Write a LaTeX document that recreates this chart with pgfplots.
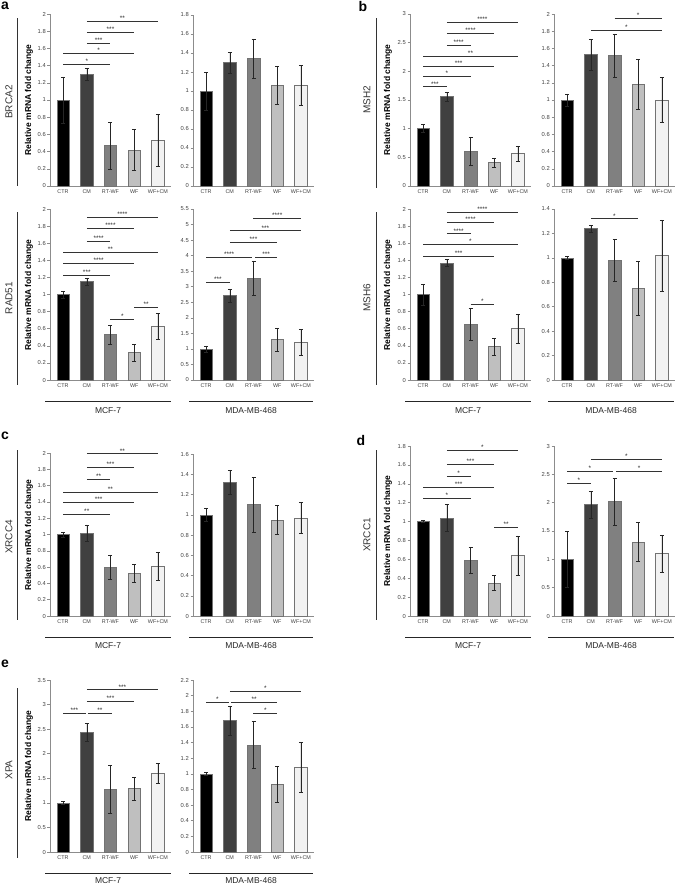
\documentclass[border=0pt]{standalone}
\usepackage{fontspec}
\setmainfont{Liberation Sans}
\usepackage{pgfplots}
\pgfplotsset{compat=1.18}
\definecolor{cCTR}{HTML}{000000}
\definecolor{cCM}{HTML}{404040}
\definecolor{cRT}{HTML}{808080}
\definecolor{cWF}{HTML}{BFBFBF}
\definecolor{cWFCM}{HTML}{F2F2F2}
\definecolor{txt}{HTML}{404040}
\pgfplotsset{
  panel/.style={
    scale only axis, width=121pt,
    xmin=0.45, xmax=5.55, ymin=0,
    axis x line*=bottom, axis y line*=left,
    axis line style={black!45, line width=0.6pt},
    xtick={1,2,3,4,5}, xticklabels={CTR,CM,RT-WF,WF,WF+CM},
    xtick style={draw=none},
    xticklabel style={font=\fontsize{5.4}{6}\selectfont, text=txt, inner sep=1.5pt},
    yticklabel style={font=\fontsize{5.8}{6}\selectfont, text=txt, inner sep=1.5pt,
      /pgf/number format/fixed, /pgf/number format/precision=1,
      /pgf/number format/assume math mode=true},
    ytick style={black!45, line width=0.5pt},
    tick align=outside, major tick length=2.5pt,
    clip=false,
    every axis plot/.append style={ybar, bar width=12.5pt, bar shift=0pt,
      draw=black!55, line width=0.5pt,
      error bars/y dir=both, error bars/y explicit,
      error bars/error bar style={black!85, line width=0.45pt},
      error bars/error mark options={rotate=90, mark size=2pt, black!85, line width=0.45pt}},
  },
}
\tikzset{sigline/.style={black!80, line width=0.7pt}}
\newcommand\sig[4]{\draw[sigline] (axis cs:#1,#3) -- (axis cs:#2,#3) node[midway, above, inner sep=0.4pt, font=\fontsize{6.5}{6.5}\selectfont, text=black!85]{#4};}
\begin{document}
\begin{tikzpicture}
\path[use as bounding box] (0pt,0pt) rectangle (675pt,-886pt);

% ---------- a: BRCA2 MCF-7
\begin{axis}[panel, at={(50pt,-14pt)}, anchor=north west, height=172pt, ymax=2, ytick distance=0.2]
\addplot[fill=cCTR] coordinates {(1,1.00) +- (0,0.27)};
\addplot[fill=cCM] coordinates {(2,1.30) +- (0,0.07)};
\addplot[fill=cRT] coordinates {(3,0.47) +- (0,0.27)};
\addplot[fill=cWF] coordinates {(4,0.42) +- (0,0.24)};
\addplot[fill=cWFCM] coordinates {(5,0.53) +- (0,0.30)};
\sig{2}{5}{1.92}{**}
\sig{2}{4}{1.79}{***}
\sig{2}{3}{1.66}{***}
\sig{1}{4}{1.54}{*}
\sig{1}{3}{1.41}{*}
\end{axis}
% ---------- a: BRCA2 MDA
\begin{axis}[panel, at={(193pt,-15pt)}, anchor=north west, height=171pt, ymax=1.8, ytick distance=0.2]
\addplot[fill=cCTR] coordinates {(1,1.00) +- (0,0.20)};
\addplot[fill=cCM] coordinates {(2,1.30) +- (0,0.11)};
\addplot[fill=cRT] coordinates {(3,1.34) +- (0,0.21)};
\addplot[fill=cWF] coordinates {(4,1.06) +- (0,0.20)};
\addplot[fill=cWFCM] coordinates {(5,1.06) +- (0,0.21)};
\end{axis}
% ---------- a: RAD51 MCF-7
\begin{axis}[panel, at={(50pt,-209pt)}, anchor=north west, height=171pt, ymax=2, ytick distance=0.2]
\addplot[fill=cCTR] coordinates {(1,1.00) +- (0,0.04)};
\addplot[fill=cCM] coordinates {(2,1.15) +- (0,0.04)};
\addplot[fill=cRT] coordinates {(3,0.53) +- (0,0.11)};
\addplot[fill=cWF] coordinates {(4,0.32) +- (0,0.10)};
\addplot[fill=cWFCM] coordinates {(5,0.63) +- (0,0.15)};
\sig{2}{5}{1.90}{****}
\sig{2}{4}{1.77}{****}
\sig{2}{3}{1.62}{****}
\sig{1}{5}{1.49}{**}
\sig{1}{4}{1.36}{****}
\sig{1}{3}{1.22}{***}
\sig{4}{5}{0.85}{**}
\sig{3}{4}{0.71}{*}
\end{axis}
% ---------- a: RAD51 MDA
\begin{axis}[panel, at={(193pt,-209pt)}, anchor=north west, height=171pt, ymax=5.5, ytick distance=0.5]
\addplot[fill=cCTR] coordinates {(1,1.00) +- (0,0.10)};
\addplot[fill=cCM] coordinates {(2,2.72) +- (0,0.21)};
\addplot[fill=cRT] coordinates {(3,3.28) +- (0,0.55)};
\addplot[fill=cWF] coordinates {(4,1.30) +- (0,0.36)};
\addplot[fill=cWFCM] coordinates {(5,1.22) +- (0,0.42)};
\sig{3}{5}{5.19}{****}
\sig{2}{5}{4.80}{***}
\sig{2}{4}{4.44}{***}
\sig{1}{2.95}{3.94}{****}
\sig{3.07}{4}{3.94}{***}
\sig{1}{2}{3.14}{***}
\end{axis}

% ---------- b: MSH2 MCF-7
\begin{axis}[panel, at={(410pt,-14pt)}, anchor=north west, height=172pt, ymax=3, ytick distance=0.5]
\addplot[fill=cCTR] coordinates {(1,1.00) +- (0,0.07)};
\addplot[fill=cCM] coordinates {(2,1.56) +- (0,0.08)};
\addplot[fill=cRT] coordinates {(3,0.61) +- (0,0.24)};
\addplot[fill=cWF] coordinates {(4,0.41) +- (0,0.08)};
\addplot[fill=cWFCM] coordinates {(5,0.57) +- (0,0.13)};
\sig{2}{5}{2.85}{****}
\sig{2}{4}{2.66}{****}
\sig{2}{3}{2.46}{****}
\sig{1}{5}{2.27}{**}
\sig{1}{4}{2.09}{***}
\sig{1}{3}{1.92}{*}
\sig{1}{2}{1.73}{***}
\end{axis}
% ---------- b: MSH2 MDA
\begin{axis}[panel, at={(554pt,-14pt)}, anchor=north west, height=172pt, ymax=2, ytick distance=0.2]
\addplot[fill=cCTR] coordinates {(1,1.00) +- (0,0.07)};
\addplot[fill=cCM] coordinates {(2,1.53) +- (0,0.18)};
\addplot[fill=cRT] coordinates {(3,1.52) +- (0,0.25)};
\addplot[fill=cWF] coordinates {(4,1.18) +- (0,0.29)};
\addplot[fill=cWFCM] coordinates {(5,1.00) +- (0,0.26)};
\sig{3}{5}{1.95}{*}
\sig{2}{5}{1.81}{*}
\end{axis}
% ---------- b: MSH6 MCF-7
\begin{axis}[panel, at={(410pt,-209pt)}, anchor=north west, height=171pt, ymax=2, ytick distance=0.2]
\addplot[fill=cCTR] coordinates {(1,1.00) +- (0,0.12)};
\addplot[fill=cCM] coordinates {(2,1.37) +- (0,0.045)};
\addplot[fill=cRT] coordinates {(3,0.65) +- (0,0.19)};
\addplot[fill=cWF] coordinates {(4,0.39) +- (0,0.10)};
\addplot[fill=cWFCM] coordinates {(5,0.60) +- (0,0.17)};
\sig{2}{5}{1.96}{****}
\sig{2}{4}{1.84}{****}
\sig{2}{3}{1.71}{****}
\sig{1}{5}{1.59}{*}
\sig{1}{4}{1.45}{***}
\sig{3}{4}{0.89}{*}
\end{axis}
% ---------- b: MSH6 MDA
\begin{axis}[panel, at={(554pt,-209pt)}, anchor=north west, height=171pt, ymax=1.4, ytick distance=0.2]
\addplot[fill=cCTR] coordinates {(1,1.00) +- (0,0.01)};
\addplot[fill=cCM] coordinates {(2,1.24) +- (0,0.03)};
\addplot[fill=cRT] coordinates {(3,0.98) +- (0,0.17)};
\addplot[fill=cWF] coordinates {(4,0.75) +- (0,0.22)};
\addplot[fill=cWFCM] coordinates {(5,1.02) +- (0,0.29)};
\sig{2}{4}{1.32}{*}
\end{axis}

% ---------- c: XRCC4 MCF-7
\begin{axis}[panel, at={(50pt,-453pt)}, anchor=north west, height=163pt, ymax=2, ytick distance=0.2]
\addplot[fill=cCTR] coordinates {(1,1.00) +- (0,0.03)};
\addplot[fill=cCM] coordinates {(2,1.02) +- (0,0.10)};
\addplot[fill=cRT] coordinates {(3,0.60) +- (0,0.15)};
\addplot[fill=cWF] coordinates {(4,0.52) +- (0,0.11)};
\addplot[fill=cWFCM] coordinates {(5,0.61) +- (0,0.17)};
\sig{2}{5}{1.99}{**}
\sig{2}{4}{1.83}{***}
\sig{2}{3}{1.68}{**}
\sig{1}{5}{1.52}{**}
\sig{1}{4}{1.39}{***}
\sig{1}{3}{1.25}{**}
\end{axis}
% ---------- c: XRCC4 MDA
\begin{axis}[panel, at={(193pt,-454pt)}, anchor=north west, height=162pt, ymax=1.6, ytick distance=0.2]
\addplot[fill=cCTR] coordinates {(1,1.00) +- (0,0.06)};
\addplot[fill=cCM] coordinates {(2,1.32) +- (0,0.12)};
\addplot[fill=cRT] coordinates {(3,1.10) +- (0,0.27)};
\addplot[fill=cWF] coordinates {(4,0.95) +- (0,0.14)};
\addplot[fill=cWFCM] coordinates {(5,0.97) +- (0,0.15)};
\end{axis}

% ---------- d: XRCC1 MCF-7
\begin{axis}[panel, at={(410pt,-446pt)}, anchor=north west, height=170pt, ymax=1.8, ytick distance=0.2]
\addplot[fill=cCTR] coordinates {(1,1.00) +- (0,0.01)};
\addplot[fill=cCM] coordinates {(2,1.04) +- (0,0.14)};
\addplot[fill=cRT] coordinates {(3,0.59) +- (0,0.14)};
\addplot[fill=cWF] coordinates {(4,0.35) +- (0,0.08)};
\addplot[fill=cWFCM] coordinates {(5,0.64) +- (0,0.21)};
\sig{2}{5}{1.75}{*}
\sig{2}{4}{1.61}{***}
\sig{2}{3}{1.48}{*}
\sig{1}{4}{1.36}{***}
\sig{1}{3}{1.25}{*}
\sig{4}{5}{0.94}{**}
\end{axis}
% ---------- d: XRCC1 MDA
\begin{axis}[panel, at={(554pt,-446pt)}, anchor=north west, height=170pt, ymax=3, ytick distance=0.5]
\addplot[fill=cCTR] coordinates {(1,1.00) +- (0,0.50)};
\addplot[fill=cCM] coordinates {(2,1.97) +- (0,0.24)};
\addplot[fill=cRT] coordinates {(3,2.02) +- (0,0.41)};
\addplot[fill=cWF] coordinates {(4,1.31) +- (0,0.34)};
\addplot[fill=cWFCM] coordinates {(5,1.10) +- (0,0.33)};
\sig{2}{5}{2.76}{*}
\sig{1}{2.93}{2.56}{*}
\sig{3.07}{5}{2.56}{*}
\sig{1}{2}{2.34}{*}
\end{axis}

% ---------- e: XPA MCF-7
\begin{axis}[panel, at={(50pt,-680pt)}, anchor=north west, height=172pt, ymax=3.5, ytick distance=0.5]
\addplot[fill=cCTR] coordinates {(1,1.00) +- (0,0.03)};
\addplot[fill=cCM] coordinates {(2,2.44) +- (0,0.18)};
\addplot[fill=cRT] coordinates {(3,1.28) +- (0,0.49)};
\addplot[fill=cWF] coordinates {(4,1.29) +- (0,0.23)};
\addplot[fill=cWFCM] coordinates {(5,1.60) +- (0,0.20)};
\sig{2}{5}{3.30}{***}
\sig{2}{4}{3.06}{***}
\sig{1}{1.95}{2.82}{***}
\sig{2.05}{3.05}{2.82}{**}
\end{axis}
% ---------- e: XPA MDA
\begin{axis}[panel, at={(193pt,-680pt)}, anchor=north west, height=172pt, ymax=2.2, ytick distance=0.2]
\addplot[fill=cCTR] coordinates {(1,1.00) +- (0,0.02)};
\addplot[fill=cCM] coordinates {(2,1.68) +- (0,0.18)};
\addplot[fill=cRT] coordinates {(3,1.37) +- (0,0.30)};
\addplot[fill=cWF] coordinates {(4,0.87) +- (0,0.23)};
\addplot[fill=cWFCM] coordinates {(5,1.09) +- (0,0.32)};
\sig{2}{5}{2.06}{*}
\sig{1}{1.95}{1.91}{*}
\sig{2.05}{4}{1.91}{**}
\sig{3}{4}{1.77}{*}
\end{axis}

% ---------- panel letters
\begin{scope}[every node/.style={font=\bfseries\fontsize{14}{14}\selectfont}]
\node at (5pt,-6pt) {a};
\node at (363pt,-6pt) {b};
\node at (5pt,-436pt) {c};
\node at (361pt,-440pt) {d};
\node at (5pt,-664pt) {e};
\end{scope}

% ---------- gene labels and bars
\begin{scope}[every node/.style={rotate=90, font=\fontsize{10}{10}\selectfont, text=black!80}]
\node at (9pt,-102pt) {BRCA2};
\node at (9pt,-298pt) {RAD51};
\node at (367pt,-100pt) {MSH2};
\node at (367pt,-298pt) {MSH6};
\node at (9pt,-537pt) {XRCC4};
\node at (367pt,-535pt) {XRCC1};
\node at (9pt,-770pt) {XPA};
\end{scope}
\begin{scope}[black!80, line width=0.7pt]
\draw (17pt,-18pt) -- (17pt,-186pt);
\draw (17pt,-212pt) -- (17pt,-385pt);
\draw (376pt,-18pt) -- (376pt,-188pt);
\draw (376pt,-212pt) -- (376pt,-385pt);
\draw (17pt,-450pt) -- (17pt,-620pt);
\draw (376pt,-450pt) -- (376pt,-620pt);
\draw (17pt,-688pt) -- (17pt,-858pt);
\end{scope}

% ---------- y labels
\begin{scope}[every node/.style={rotate=90, font=\bfseries\fontsize{8.5}{9}\selectfont}]
\node at (29pt,-100pt) {Relative mRNA fold change};
\node at (29pt,-295pt) {Relative mRNA fold change};
\node at (388pt,-100pt) {Relative mRNA fold change};
\node at (388pt,-295pt) {Relative mRNA fold change};
\node at (29pt,-535pt) {Relative mRNA fold change};
\node at (388pt,-531pt) {Relative mRNA fold change};
\node at (29pt,-766pt) {Relative mRNA fold change};
\end{scope}

% ---------- cell line group labels
\begin{scope}[black!85, line width=0.8pt, every node/.style={font=\fontsize{8.5}{9}\selectfont, text=black!85}]
\draw (45pt,-401pt) -- (171pt,-401pt);  \node at (108pt,-411pt) {MCF-7};
\draw (189pt,-401pt) -- (313pt,-401pt); \node at (251pt,-411pt) {MDA-MB-468};
\draw (405pt,-401pt) -- (531pt,-401pt); \node at (468pt,-411pt) {MCF-7};
\draw (548pt,-401pt) -- (674pt,-401pt); \node at (611pt,-411pt) {MDA-MB-468};
\draw (45pt,-637pt) -- (171pt,-637pt);  \node at (108pt,-646pt) {MCF-7};
\draw (189pt,-637pt) -- (313pt,-637pt); \node at (251pt,-646pt) {MDA-MB-468};
\draw (405pt,-637pt) -- (531pt,-637pt); \node at (468pt,-646pt) {MCF-7};
\draw (548pt,-637pt) -- (674pt,-637pt); \node at (611pt,-646pt) {MDA-MB-468};
\draw (45pt,-873pt) -- (171pt,-873pt);  \node at (108pt,-881pt) {MCF-7};
\draw (189pt,-873pt) -- (313pt,-873pt); \node at (251pt,-881pt) {MDA-MB-468};
\end{scope}
\end{tikzpicture}
\end{document}
